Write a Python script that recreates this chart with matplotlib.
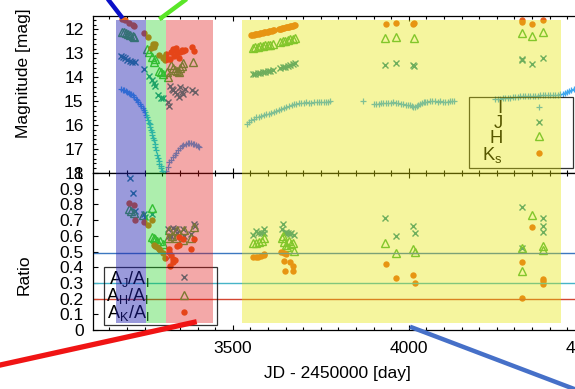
import matplotlib
matplotlib.use('Agg')
import matplotlib.pyplot as plt
from matplotlib.patches import Rectangle
from matplotlib.lines import Line2D
from matplotlib.transforms import blended_transform_factory
from matplotlib.ticker import MultipleLocator, FuncFormatter

plt.rcParams['font.family'] = ['Liberation Sans', 'DejaVu Sans']
plt.rcParams['mathtext.fontset'] = 'custom'
plt.rcParams['mathtext.rm'] = 'Liberation Sans'
plt.rcParams['mathtext.it'] = 'Liberation Sans:italic'
plt.rcParams['mathtext.sf'] = 'Liberation Sans'

# ---------------- data ----------------
# I band light curve (JD-2450000, mag)
i_jd = [3184, 3188, 3192, 3196, 3200, 3204, 3208, 3212, 3216, 3220, 3224, 3228, 3232, 3236,
        3240, 3244, 3248, 3252, 3255, 3257, 3260, 3262, 3264, 3266, 3268, 3270, 3272, 3274,
        3276, 3278, 3280, 3283, 3286, 3288, 3290, 3292, 3295, 3297, 3300, 3303, 3307, 3311,
        3315, 3320, 3325, 3330, 3335, 3339, 3344, 3349, 3355, 3360, 3366, 3372, 3377, 3382,
        3387, 3391, 3396, 3400, 3404,
        3541, 3547, 3553, 3560, 3567, 3574, 3581, 3588, 3595, 3602, 3610, 3617, 3624, 3631,
        3638, 3645, 3652, 3659, 3667, 3674, 3681, 3688, 3695, 3702, 3709, 3716, 3723, 3730,
        3738, 3745, 3752, 3759, 3766, 3771, 3776,
        3871, 3900, 3907, 3914, 3921, 3928, 3935, 3942, 3949, 3956, 3963, 3970, 3977, 3985,
        3992, 3999, 4004, 4008, 4013, 4018, 4022, 4027, 4032, 4037, 4042, 4046, 4053, 4060,
        4067, 4075, 4082, 4089, 4096, 4103, 4110, 4117, 4123, 4129,
        4245, 4252, 4260, 4267, 4274, 4281, 4288, 4295, 4302, 4309, 4316, 4323, 4331, 4338,
        4345, 4352, 4359, 4366, 4373, 4380, 4387, 4394, 4402, 4409, 4416, 4423, 4430, 4437,
        4444, 4450, 4456, 4462, 4468, 4474]
i_mag = [14.50, 14.52, 14.55, 14.58, 14.61, 14.64, 14.68, 14.71, 14.76, 14.82, 14.89, 14.96, 15.04, 15.12,
         15.20, 15.29, 15.38, 15.47, 15.56, 15.66, 15.80, 15.90, 15.97, 16.08, 16.19, 16.30, 16.41, 16.52,
         16.64, 16.78, 16.90, 17.06, 17.25, 17.37, 17.50, 17.61, 17.72, 17.81, 17.93, 18.02, 18.05, 17.93,
         17.76, 17.56, 17.45, 17.35, 17.24, 17.15, 17.05, 16.97, 16.89, 16.84, 16.79, 16.75, 16.74, 16.75,
         16.77, 16.80, 16.84, 16.88, 16.91,
         15.96, 15.88, 15.80, 15.74, 15.68, 15.65, 15.62, 15.58, 15.54, 15.52, 15.49, 15.45, 15.40, 15.37,
         15.33, 15.28, 15.24, 15.19, 15.15, 15.12, 15.10, 15.08, 15.07, 15.06, 15.05, 15.06, 15.06, 15.05,
         15.05, 15.04, 15.04, 15.03, 15.03, 15.02, 15.01,
         15.01, 15.10, 15.11, 15.10, 15.09, 15.08, 15.08, 15.07, 15.06, 15.05, 15.06, 15.08, 15.10, 15.12,
         15.14, 15.15, 15.18, 15.21, 15.23, 15.24, 15.22, 15.18, 15.12, 15.07, 15.05, 15.03, 15.02, 15.01,
         15.01, 15.01, 15.02, 15.01, 15.02, 15.03, 15.02, 15.01, 15.01, 15.01,
         14.92, 14.90, 14.89, 14.88, 14.87, 14.86, 14.85, 14.83, 14.82, 14.81, 14.80, 14.80, 14.79, 14.79,
         14.79, 14.78, 14.78, 14.77, 14.75, 14.75, 14.74, 14.74, 14.74, 14.74, 14.74, 14.73, 14.71, 14.68,
         14.65, 14.61, 14.57, 14.54, 14.50, 14.46]

# J band
j_jd = [3182, 3188, 3194, 3200, 3208, 3214, 3222, 3248, 3262, 3270, 3275, 3280, 3289, 3296,
        3303, 3317, 3318, 3322, 3328, 3331, 3336, 3341, 3346, 3351, 3355, 3360, 3364, 3383, 3392,
        3557, 3564, 3571, 3578, 3585, 3592, 3599, 3606, 3614,
        3635, 3642, 3649, 3656, 3663, 3670, 3677,
        3933, 3964, 4013, 4016, 4321, 4322, 4349, 4382]
j_mag = [13.12, 13.15, 13.21, 13.26, 13.32, 13.35, 13.36, 13.67, 13.95, 14.12, 14.26, 14.35, 14.75, 14.85,
         14.86, 15.03, 15.21, 14.37, 14.50, 14.55, 14.62, 14.68, 14.82, 14.40, 14.61, 14.70, 14.51, 14.54, 14.61,
         13.87, 13.85, 13.84, 13.82, 13.80, 13.78, 13.76, 13.74, 13.70,
         13.62, 13.58, 13.56, 13.52, 13.49, 13.46, 13.42,
         13.49, 13.42, 13.50, 13.54, 13.22, 13.27, 13.45, 13.20]

# H band
h_jd = [3185, 3190, 3196, 3203, 3208, 3216, 3221, 3256, 3262, 3272, 3276, 3280, 3290, 3297,
        3303, 3312, 3317, 3325, 3330, 3336, 3341, 3346, 3350, 3356, 3360, 3386,
        3557, 3564, 3571, 3578, 3585, 3592, 3599, 3606, 3614,
        3635, 3642, 3649, 3656, 3663, 3670, 3677,
        3933, 3964, 4015, 4321, 4349, 4382]
h_mag = [12.10, 12.13, 12.17, 12.20, 12.24, 12.28, 12.32, 12.80, 12.95, 13.14, 13.35, 13.25, 13.72, 13.80,
         13.85, 13.78, 13.98, 13.50, 13.62, 13.70, 13.75, 13.78, 13.62, 13.55, 13.42, 13.38,
         12.76, 12.74, 12.72, 12.70, 12.69, 12.67, 12.66, 12.64, 12.61,
         12.52, 12.49, 12.47, 12.44, 12.42, 12.39, 12.36,
         12.36, 12.31, 12.36, 12.17, 12.27, 12.13]

# Ks band
k_jd = [3185, 3195, 3206, 3216, 3221, 3248, 3260, 3267, 3274, 3275, 3279, 3292, 3301, 3305,
        3308, 3311, 3317, 3321, 3326, 3330, 3333, 3336, 3340, 3343, 3346, 3350, 3355, 3360,
        3364, 3383, 3391,
        3552, 3556, 3559, 3563, 3567, 3570, 3574, 3578, 3581, 3585, 3589, 3592, 3596, 3600,
        3603, 3607, 3611, 3614, 3617,
        3632, 3635, 3638, 3641, 3644, 3647, 3650, 3653, 3656, 3659, 3662, 3665, 3668, 3671,
        3674, 3677,
        3934, 3964, 4012, 4016, 4321, 4321, 4349, 4382]
k_mag = [11.58, 11.63, 11.75, 11.82, 11.87, 12.17, 12.33, 12.78, 12.62, 12.72, 12.62, 13.08, 13.20, 13.17,
         13.27, 13.03, 13.25, 13.24, 12.95, 12.80, 13.10, 12.88, 12.78, 13.00, 13.20, 12.95, 12.85, 12.92,
         12.88, 12.75, 12.92,
         12.24, 12.23, 12.22, 12.21, 12.20, 12.19, 12.18, 12.17, 12.16, 12.15, 12.13, 12.12, 12.11, 12.10,
         12.08, 12.07, 12.05, 12.04, 12.03,
         12.00, 11.99, 11.97, 11.96, 11.94, 11.93, 11.92, 11.91, 11.90, 11.89, 11.87, 11.86, 11.85, 11.84,
         11.82, 11.81,
         11.79, 11.72, 11.78, 11.74, 11.60, 11.70, 11.78, 11.61]

# extinction ratios
rj_jd = [3207, 3217, 3222, 3248, 3250, 3272, 3316, 3318, 3321, 3325, 3330, 3340, 3342, 3360,
         3362, 3381, 3391, 3392,
         3558, 3565, 3572, 3580, 3589, 3590, 3640, 3643, 3648, 3652, 3657, 3662, 3666, 3674,
         3932, 3965, 4012, 4017, 4321, 4322, 4380, 4381, 4382]
rj = [0.966, 0.87, 0.76, 0.742, 0.72, 0.742, 0.646, 0.60, 0.474, 0.60, 0.647, 0.645, 0.62, 0.645,
      0.60, 0.613, 0.676, 0.66,
      0.604, 0.63, 0.615, 0.619, 0.646, 0.621, 0.643, 0.672, 0.62, 0.625, 0.615, 0.61, 0.615, 0.608,
      0.715, 0.60, 0.664, 0.621, 0.781, 0.525, 0.713, 0.66, 0.627]

rh_jd = [3206, 3210, 3220, 3245, 3272, 3270, 3275, 3278, 3285, 3293, 3302, 3317, 3318, 3328,
         3340, 3342, 3360, 3362, 3381, 3391,
         3558, 3566, 3575, 3582, 3589, 3640, 3643, 3646, 3650, 3655, 3660, 3666, 3671, 3674,
         3932, 3965, 4012, 4017, 4321, 4322, 4349, 4380, 4381]
rh = [0.77, 0.76, 0.748, 0.734, 0.78, 0.595, 0.585, 0.58, 0.57, 0.568, 0.547, 0.585, 0.638, 0.60,
      0.589, 0.64, 0.574, 0.64, 0.585, 0.659,
      0.551, 0.555, 0.562, 0.57, 0.583, 0.583, 0.60, 0.56, 0.54, 0.53, 0.57, 0.545, 0.557, 0.502,
      0.557, 0.493, 0.515, 0.498, 0.525, 0.376, 0.73, 0.532, 0.51]

rk_jd = [3206, 3220, 3222, 3248, 3260, 3272, 3275, 3280, 3284, 3290, 3293, 3302, 3309, 3319,
         3320, 3323, 3326, 3329, 3331, 3336, 3341, 3346, 3348, 3360, 3381, 3391,
         3558, 3565, 3572, 3580, 3589, 3590, 3638, 3645, 3652, 3647, 3662, 3671, 3648, 3670,
         3934, 3965, 4012, 4017, 4321, 4322, 4349, 4380, 4381, 4382]
rk = [0.808, 0.793, 0.702, 0.687, 0.666, 0.702, 0.542, 0.535, 0.528, 0.515, 0.51, 0.489, 0.457, 0.517,
      0.498, 0.41, 0.477, 0.451, 0.436, 0.447, 0.538, 0.595, 0.544, 0.58, 0.517, 0.58,
      0.466, 0.466, 0.468, 0.47, 0.487, 0.475, 0.498, 0.49, 0.487, 0.438, 0.43, 0.408, 0.375, 0.378,
      0.423, 0.332, 0.353, 0.302, 0.43, 0.202, 0.653, 0.325, 0.31, 0.29]

ratio_levels = [0.49, 0.30, 0.20]
ratio_colors = ['#3c78c0', '#46b4c8', '#d24632']

span_start = [3168, 3255, 3310, 3526]
span_end = [3255, 3310, 3443, 4433]
span_colors = ['#2020b0', '#10d010', '#e01010', '#e6e600']
span_alpha = [0.45, 0.34, 0.36, 0.38]

band_labels = ['I', 'J', 'H', r'  K$_\mathrm{s}$']
ratio_labels = [r'A$_\mathrm{J}$/A$_\mathrm{I}$', r'A$_\mathrm{H}$/A$_\mathrm{I}$',
                r'A$_\mathrm{K}$/A$_\mathrm{I}$']

cI, cJ, cH, cK = '#40a8f0', '#268c96', '#46b446', '#e8641e'

# ---------------- figure ----------------
W, H = 575, 389
fig = plt.figure(figsize=(W / 100, H / 100), dpi=100)


def rect(x0, y0, x1, y1):
    return [x0 / W, 1 - y1 / H, (x1 - x0) / W, (y1 - y0) / H]


ax1 = fig.add_axes(rect(93.3, 15.7, 588, 173))
ax2 = fig.add_axes(rect(93.3, 173, 588, 330), sharex=ax1)

ms = 4.6
kw_i = dict(ls='none', marker='+', color=cI, ms=4.8, mew=0.9)
kw_j = dict(ls='none', marker='x', color=cJ, ms=ms, mew=1.0)
kw_h = dict(ls='none', marker='^', mfc='none', mec=cH, ms=ms + 0.6, mew=1.0)
kw_k = dict(ls='none', marker='o', color=cK, ms=ms, mew=0)

ax1.plot(i_jd, i_mag, **kw_i)
ax1.plot(j_jd, j_mag, **kw_j)
ax1.plot(h_jd, h_mag, **kw_h)
ax1.plot(k_jd, k_mag, **kw_k)

ax2.plot(rj_jd, rj, **kw_j)
ax2.plot(rh_jd, rh, **kw_h)
ax2.plot(rk_jd, rk, **kw_k)
for lv, c in zip(ratio_levels, ratio_colors):
    ax2.axhline(lv, color=c, lw=1.0)

ax1.set_xlim(3104, 4509)
ax1.set_ylim(18, 11.43)
ax2.set_ylim(0, 1.0)

for ax in (ax1, ax2):
    ax.xaxis.set_major_locator(MultipleLocator(500))
    ax.xaxis.set_minor_locator(MultipleLocator(50))
    ax.tick_params(which='both', direction='in', top=True, right=True, width=0.8,
                   labelsize=12.5, pad=7)
    ax.tick_params(which='major', length=3.8)
    ax.tick_params(which='minor', length=2.2)
    for s in ax.spines.values():
        s.set_linewidth(0.9)
ax2.tick_params(axis='x', pad=8)
ax1.tick_params(axis='x', labelbottom=False)
ax1.yaxis.set_major_locator(MultipleLocator(1))
ax1.yaxis.set_minor_locator(MultipleLocator(0.2))
ax2.yaxis.set_major_locator(MultipleLocator(0.1))
ax2.yaxis.set_major_formatter(FuncFormatter(lambda v, p: '%g' % round(v, 2)))

ax1.set_ylabel('Magnitude [mag]', fontsize=12.5)
ax2.set_ylabel('Ratio', fontsize=12.5)
ax2.set_xlabel('JD - 2450000 [day]', fontsize=12.5)
ax1.yaxis.set_label_coords(-0.125, 0.633)
ax2.yaxis.set_label_coords(-0.125, 0.35)
ax2.xaxis.set_label_coords(0.493, -0.232)

# legends
h_top = [Line2D([], [], **kw_i), Line2D([], [], **kw_j),
         Line2D([], [], **kw_h), Line2D([], [], **kw_k)]
leg1 = ax1.legend(h_top, band_labels, loc='lower right', bbox_to_anchor=(0.9687, 0.03),
                  bbox_transform=ax1.transAxes, borderaxespad=0, markerfirst=False,
                  fancybox=False, edgecolor='black', fontsize=13.2, labelspacing=-0.12,
                  handlelength=3.3, handletextpad=0.3, borderpad=0.2)
leg1.get_frame().set_facecolor('none')
leg1.get_frame().set_linewidth(0.9)

h_bot = h_top[1:]
leg2 = ax2.legend(h_bot, ratio_labels, loc='lower left', bbox_to_anchor=(0.0222, 0.032),
                  bbox_transform=ax2.transAxes, borderaxespad=0, markerfirst=False,
                  fancybox=False, edgecolor='black', fontsize=13, labelspacing=-0.15,
                  handlelength=3.5, handletextpad=0.15, borderpad=0.1)
leg2.get_frame().set_facecolor('none')
leg2.get_frame().set_linewidth(0.9)

# shaded epochs over both panels (x in data, y in figure coords)
tr = blended_transform_factory(ax2.transData, fig.transFigure)
y_lo, y_hi = 1 - 322.7 / H, 1 - 20 / H
for s, e, c, a in zip(span_start, span_end, span_colors, span_alpha):
    fig.add_artist(Rectangle((s, y_lo), e - s, y_hi - y_lo, transform=tr,
                             facecolor=c, edgecolor='none', alpha=a, zorder=10))


# annotation connector lines (figure decoration)
def fline(x0, y0, x1, y1, color, lw):
    fig.add_artist(Line2D([x0 / W, x1 / W], [1 - y0 / H, 1 - y1 / H],
                          transform=fig.transFigure, color=color, lw=lw,
                          solid_capstyle='butt', zorder=11))


fline(107, -2, 122.7, 18.3, '#0a10c8', 3.2)
fline(188, -2, 159.3, 19.3, '#5ae628', 3.2)
fline(-2, 365.5, 196.7, 321.7, '#f01414', 3.8)
fline(410, 326.7, 590, 395, '#4670c8', 3.2)

fig.savefig('out.png', dpi=100, facecolor='white')
